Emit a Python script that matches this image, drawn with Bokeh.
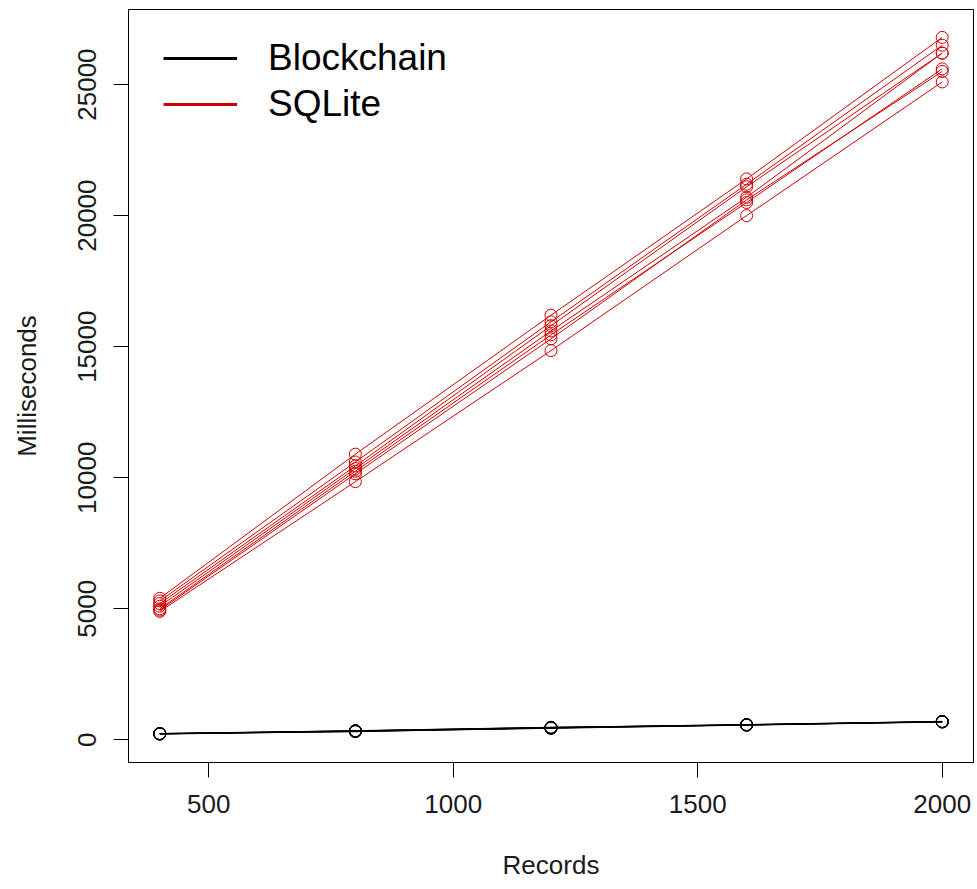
from bokeh.plotting import figure
from bokeh.models import Range1d, FixedTicker, Legend, LegendItem, ColumnDataSource
from bokeh.embed import file_html
from bokeh.resources import INLINE

records = [400, 800, 1200, 1600, 2000]

sqlite_runs = [
    [5400, 10900, 16200, 21400, 26800],
    [5300, 10600, 15950, 21200, 26500],
    [5200, 10450, 15800, 21100, 26200],
    [5100, 10350, 15600, 20700, 26200],
    [5000, 10250, 15450, 20500, 25600],
    [4950, 10150, 15300, 20600, 25500],
    [4900, 9850, 14850, 20000, 25100],
]

blockchain_runs = [
    [220, 320, 440, 560, 680],
    [230, 330, 450, 570, 690],
    [240, 340, 470, 580, 700],
    [225, 350, 480, 565, 695],
    [235, 310, 460, 575, 685],
    [230, 335, 455, 570, 690],
    [245, 345, 475, 585, 705],
]

x_ticks = [500, 1000, 1500, 2000]
y_ticks = [0, 5000, 10000, 15000, 20000, 25000]
legend_labels = ["Blockchain", "SQLite"]

RED = "#D00000"
FONT = "Liberation Sans"

p = figure(width=975, height=885, output_backend="svg", toolbar_location=None,
           x_range=Range1d(336, 2064), y_range=Range1d(-864, 27864),
           min_border_left=128, min_border_right=2, min_border_top=9, min_border_bottom=123)

p.background_fill_color = "white"
p.border_fill_color = "white"
p.outline_line_color = "black"
p.outline_line_width = 1
p.xgrid.visible = False
p.ygrid.visible = False

for ys in blockchain_runs:
    p.line(records, ys, line_color="black", line_width=1)
    p.scatter(records, ys, marker="circle", size=12, fill_color=None, line_color="black", line_width=1)

for ys in sqlite_runs:
    p.line(records, ys, line_color=RED, line_width=1)
    p.scatter(records, ys, marker="circle", size=12, fill_color=None, line_color=RED, line_width=1)

nan = float("nan")
dummy = ColumnDataSource(data=dict(x=[nan], y=[nan]))
lb = p.line("x", "y", source=dummy, line_color="black", line_width=3)
ls = p.line("x", "y", source=dummy, line_color=RED, line_width=3)

legend = Legend(items=[LegendItem(label=legend_labels[0], renderers=[lb], index=0),
                       LegendItem(label=legend_labels[1], renderers=[ls], index=0)],
                location=(35, 635), margin=0, padding=0, spacing=0,
                glyph_width=74, glyph_height=46, label_height=46, label_standoff=31,
                label_text_font=FONT, label_text_font_size="37px", label_text_color="black",
                border_line_color=None, background_fill_alpha=0)
p.add_layout(legend, "center")

for ax in (p.xaxis[0], p.yaxis[0]):
    ax.major_tick_out = 15
    ax.major_tick_in = 0
    ax.minor_tick_out = 0
    ax.minor_tick_in = 0
    ax.axis_line_color = "black"
    ax.major_tick_line_color = "black"
    ax.major_label_text_font = FONT
    ax.major_label_text_font_size = "26px"
    ax.major_label_text_color = "#1a1a1a"
    ax.axis_label_text_font = FONT
    ax.axis_label_text_font_size = "26px"
    ax.axis_label_text_font_style = "normal"
    ax.axis_label_text_color = "#1a1a1a"
    ax.major_label_standoff = 17
    ax.axis_label_standoff = 34

p.xaxis[0].ticker = FixedTicker(ticks=x_ticks)
p.yaxis[0].ticker = FixedTicker(ticks=y_ticks)
p.xaxis[0].axis_label = "Records"
p.yaxis[0].axis_label = "Milliseconds"
p.yaxis[0].major_label_orientation = "vertical"

open("out.html", "w").write(file_html(p, INLINE))
